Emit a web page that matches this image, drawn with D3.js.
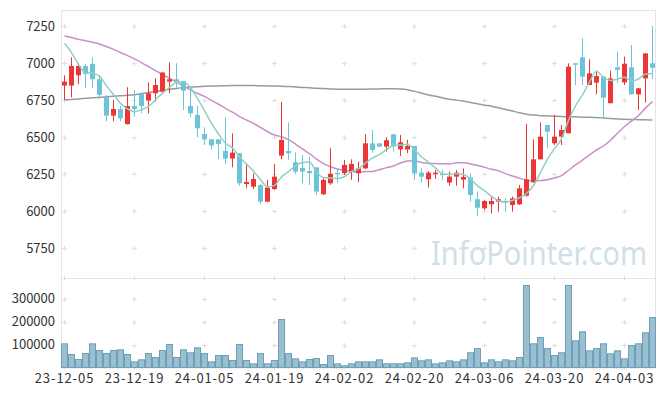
<!DOCTYPE html>
<html>
<head>
<meta charset="utf-8">
<script src="https://cdn.jsdelivr.net/npm/d3@7"></script>
<style>
    body { margin: 0; background: #fff; }
    svg text { font-family: "Noto Sans CJK KR", "Noto Sans", sans-serif; }
</style>
</head>
<body>
<div id="chart"></div>
<script>
// trading days, 23-12-05 .. 24-04-09
var dates = ["23-12-05","23-12-06","23-12-07","23-12-08","23-12-11","23-12-12","23-12-13","23-12-14","23-12-15","23-12-18",
    "23-12-19","23-12-20","23-12-21","23-12-22","23-12-26","23-12-27","23-12-28","24-01-02","24-01-03","24-01-04",
    "24-01-05","24-01-08","24-01-09","24-01-10","24-01-11","24-01-12","24-01-15","24-01-16","24-01-17","24-01-18",
    "24-01-19","24-01-22","24-01-23","24-01-24","24-01-25","24-01-26","24-01-29","24-01-30","24-01-31","24-02-01",
    "24-02-02","24-02-05","24-02-06","24-02-07","24-02-08","24-02-13","24-02-14","24-02-15","24-02-16","24-02-19",
    "24-02-20","24-02-21","24-02-22","24-02-23","24-02-26","24-02-27","24-02-28","24-02-29","24-03-04","24-03-05",
    "24-03-06","24-03-07","24-03-08","24-03-11","24-03-12","24-03-13","24-03-14","24-03-15","24-03-18","24-03-19",
    "24-03-20","24-03-21","24-03-22","24-03-25","24-03-26","24-03-27","24-03-28","24-03-29","24-04-01","24-04-02",
    "24-04-03","24-04-04","24-04-05","24-04-08","24-04-09"];

var open = [6847,6847,6917,6980,6993,6890,6768,6644,6689,6586,6709,6791,6746,6795,6806,6874,6890,6878,6709,6649,
    6520,6484,6484,6405,6354,6390,6182,6164,6176,6063,6148,6374,6405,6329,6291,6270,6295,6113,6187,6257,
    6255,6266,6255,6288,6457,6457,6435,6518,6417,6415,6439,6259,6214,6248,6252,6192,6232,6212,6227,6079,
    6018,6045,6063,6067,6040,6045,6103,6194,6349,6581,6457,6502,6525,6998,7038,6851,6867,6908,6728,6971,
    6869,6971,6788,6896,6998];
var high = [6917,7038,6998,6993,7038,6917,6784,6750,6709,6836,6818,6800,6867,6896,6941,7004,6998,6878,6845,6709,
    6565,6484,6484,6631,6525,6390,6311,6254,6180,6210,6317,6737,6599,6396,6378,6367,6295,6221,6424,6277,
    6345,6349,6333,6518,6547,6457,6498,6518,6514,6480,6439,6288,6270,6277,6277,6266,6277,6288,6254,6131,
    6074,6097,6097,6085,6097,6176,6588,6484,6599,6581,6649,6581,6998,6998,7167,7025,6948,6912,6948,7077,
    7043,7122,6829,7065,7250];
var low = [6750,6768,6856,6829,6829,6757,6606,6606,6606,6586,6637,6660,6660,6739,6795,6795,6829,6682,6637,6498,
    6446,6417,6349,6315,6295,6169,6153,6148,6045,6058,6142,6349,6345,6250,6187,6176,6108,6108,6176,6192,
    6243,6210,6194,6284,6394,6430,6401,6401,6372,6390,6210,6192,6158,6216,6210,6171,6171,6153,6063,5966,
    6007,5984,5995,5995,5995,6040,6097,6191,6349,6424,6446,6446,6525,6851,6851,6851,6788,6626,6728,6863,
    6851,6788,6682,6732,6892];
var close = [6874,6980,6980,6926,6890,6784,6644,6689,6626,6709,6689,6709,6795,6851,6935,6890,6874,6813,6660,6559,
    6484,6442,6453,6354,6394,6187,6196,6216,6063,6158,6232,6480,6390,6266,6266,6255,6131,6210,6252,6250,
    6311,6318,6288,6457,6412,6435,6478,6435,6464,6439,6255,6232,6259,6259,6248,6232,6259,6230,6108,6022,
    6067,6067,6079,6060,6085,6153,6214,6349,6502,6536,6502,6547,6975,6993,6908,6930,6912,6766,6896,6953,
    6993,6788,6829,7065,6968];
var volume = [103300,56800,34900,61100,103300,74200,61100,74200,77200,56800,24700,33500,61100,43700,74200,100400,43700,77200,64000,85900,
    61100,24700,52400,52400,30600,100400,30600,16000,61100,16000,30600,209600,61100,37800,24700,34900,39300,13100,52400,16000,
    7300,16000,24700,24700,24700,33500,16000,16000,16000,20400,42200,29100,33500,16000,20400,29100,24700,33500,64200,83000,
    20500,33500,24800,33500,29200,43700,358000,103500,131000,83000,52400,64200,358000,116500,155800,72800,83000,103500,59700,72800,
    37800,96100,103500,151500,218000];

// moving averages as drawn (5, 20, 60 days)
var ma5 = [7133,7070,6990,6935,6930,6912,6845,6787,6727,6690,6671,6684,6706,6751,6796,6836,6869,6873,6834,6759,
    6678,6592,6520,6458,6425,6366,6317,6269,6211,6164,6173,6230,6265,6305,6327,6331,6262,6226,6223,6220,
    6231,6268,6284,6325,6357,6382,6414,6443,6445,6450,6414,6365,6330,6289,6251,6246,6251,6246,6215,6170,
    6137,6099,6069,6059,6072,6089,6118,6172,6261,6351,6421,6487,6612,6711,6785,6871,6944,6902,6882,6891,
    6904,6879,6892,6926,6929];
var ma20 = [7182,7172,7160,7150,7140,7128,7110,7092,7070,7050,7028,7003,6976,6948,6922,6896,6870,6845,6818,6794,
    6774,6747,6721,6693,6668,6638,6615,6592,6564,6536,6513,6502,6482,6452,6419,6387,6350,6320,6299,6284,
    6275,6269,6261,6266,6267,6279,6293,6304,6324,6338,6340,6327,6321,6320,6319,6318,6325,6326,6318,6307,
    6295,6282,6272,6252,6236,6222,6208,6204,6206,6211,6223,6239,6275,6311,6344,6379,6412,6439,6478,6525,
    6571,6607,6645,6695,6739];
var ma60 = [6750,6754,6757,6761,6765,6768,6771,6775,6778,6782,6786,6793,6800,6808,6815,6822,6828,6834,6837,6840,
    6842,6844,6845,6846,6847,6847,6847,6847,6846,6845,6844,6843,6841,6838,6835,6832,6829,6827,6825,6823,
    6822,6822,6823,6823,6824,6825,6826,6826,6824,6819,6808,6796,6784,6775,6764,6755,6749,6742,6733,6724,
    6715,6708,6697,6686,6675,6664,6654,6648,6644,6642,6640,6638,6637,6636,6634,6633,6631,6628,6625,6622,
    6619,6618,6617,6616,6615];

var priceTicks = [5750, 6000, 6250, 6500, 6750, 7000, 7250];
var volumeTicks = [100000, 200000, 300000];
var dateTicks = dates.filter((d, i) => i % 10 == 0);

var width = 665, height = 396;
var plotLeft = 62, plotRight = 656, plotTop = 10, plotMid = 278, plotBottom = 367.5;

var svg = d3.select("#chart").append("svg")
    .attr("width", width)
    .attr("height", height);

var x = d3.scalePoint().domain(dates).range([64, 652]);
var y = d3.scaleLinear().domain([5547, 7358]).range([plotMid, plotTop]);
var yv = d3.scaleLinear().domain([0, 390800]).range([plotBottom, plotMid]);

var bars = dates.map((d, i) => ({ date: d, o: open[i], h: high[i], l: low[i], c: close[i], v: volume[i] }));

// watermark
svg.append("text")
    .attr("x", 431).attr("y", 265)
    .attr("textLength", 216)
    .attr("lengthAdjust", "spacingAndGlyphs")
    .style("font-size", "32px")
    .style("font-family", "'Noto Sans', sans-serif")
    .style("fill", "#d0e0e9")
    .text("InfoPointer.com");

// grid crosses
var grid = svg.append("g").attr("stroke", "#dedede").attr("stroke-width", 1);
function crosses(ys, yScale) {
    dateTicks.forEach(d => {
        ys.forEach(v => {
            var cx = Math.round(x(d)) + 0.5, cy = Math.round(yScale(v)) + 0.5;
            grid.append("line").attr("x1", cx - 2.5).attr("x2", cx + 2.5).attr("y1", cy).attr("y2", cy);
            grid.append("line").attr("x1", cx).attr("x2", cx).attr("y1", cy - 2.5).attr("y2", cy + 2.5);
        });
    });
}
crosses(priceTicks, y);
crosses(volumeTicks, yv);
dateTicks.forEach(d => {
    var cx = Math.round(x(d)) + 0.5;
    [plotMid, plotBottom].forEach(cy => {
        grid.append("line").attr("x1", cx).attr("x2", cx).attr("y1", cy - 2.5).attr("y2", cy + 2.5);
    });
});

// frame
var frame = svg.append("g").attr("fill", "none").attr("stroke", "#e4e4e4");
frame.append("rect").attr("x", plotLeft - 0.5).attr("y", plotTop + 0.5).attr("width", plotRight - plotLeft).attr("height", plotBottom - plotTop);
frame.append("line").attr("x1", plotLeft).attr("x2", plotRight).attr("y1", plotMid + 0.5).attr("y2", plotMid + 0.5);

// volume
svg.selectAll(".vol")
    .data(bars)
    .enter().append("rect")
    .attr("class", "vol")
    .attr("x", d => x(d.date) - 2.5)
    .attr("y", d => yv(d.v))
    .attr("width", 6)
    .attr("height", d => yv(0) - yv(d.v))
    .attr("fill", "#98c0d0")
    .attr("stroke", "#6f9fb6")
    .attr("stroke-width", 1);

// moving averages
var line = (arr) => d3.line()
    .x((d, i) => x(dates[i]) + 0.5)
    .y(d => y(d))
    .curve(d3.curveMonotoneX)(arr);

svg.append("path").attr("d", line(ma60)).attr("fill", "none").attr("stroke", "#9a9a9a").attr("stroke-width", 1.5);
svg.append("path").attr("d", line(ma20)).attr("fill", "none").attr("stroke", "#c98fc6").attr("stroke-width", 1.5);

// candles
var upColor = "#ee3535", downColor = "#6cc4da";
var candle = svg.selectAll(".candle")
    .data(bars)
    .enter().append("g")
    .attr("class", "candle");

candle.append("line")
    .attr("x1", d => x(d.date) + 0.5)
    .attr("x2", d => x(d.date) + 0.5)
    .attr("y1", d => y(d.h))
    .attr("y2", d => y(d.l))
    .attr("stroke", d => d.c >= d.o ? upColor : downColor)
    .attr("stroke-width", 1);

candle.append("rect")
    .attr("x", d => x(d.date) - 2)
    .attr("y", d => y(Math.max(d.o, d.c)))
    .attr("width", 5)
    .attr("height", d => Math.max(1.5, Math.abs(y(d.o) - y(d.c))))
    .attr("fill", d => d.c >= d.o ? upColor : downColor);

svg.append("path").attr("d", line(ma5)).attr("fill", "none").attr("stroke", "#8fd0c2").attr("stroke-width", 1.5);

// axes
var yAxis = svg.append("g")
    .attr("transform", "translate(" + plotLeft + ",0)")
    .call(d3.axisLeft(y).tickValues(priceTicks).tickSize(0).tickPadding(7).tickFormat(d3.format("d")));

var vAxis = svg.append("g")
    .attr("transform", "translate(" + plotLeft + ",0)")
    .call(d3.axisLeft(yv).tickValues(volumeTicks).tickSize(0).tickPadding(7).tickFormat(d3.format("d")));

var xAxis = svg.append("g")
    .attr("transform", "translate(0," + plotBottom + ")")
    .call(d3.axisBottom(x).tickValues(dateTicks).tickSize(0).tickPadding(6));

[yAxis, vAxis, xAxis].forEach(g => {
    g.select(".domain").remove();
    g.selectAll("text")
        .style("font-size", "13px")
        .style("font-family", "'Noto Sans CJK KR', 'Noto Sans', sans-serif")
        .attr("fill", "#333");
});
xAxis.selectAll("text").style("letter-spacing", "0.9px");
</script>
</body>
</html>
